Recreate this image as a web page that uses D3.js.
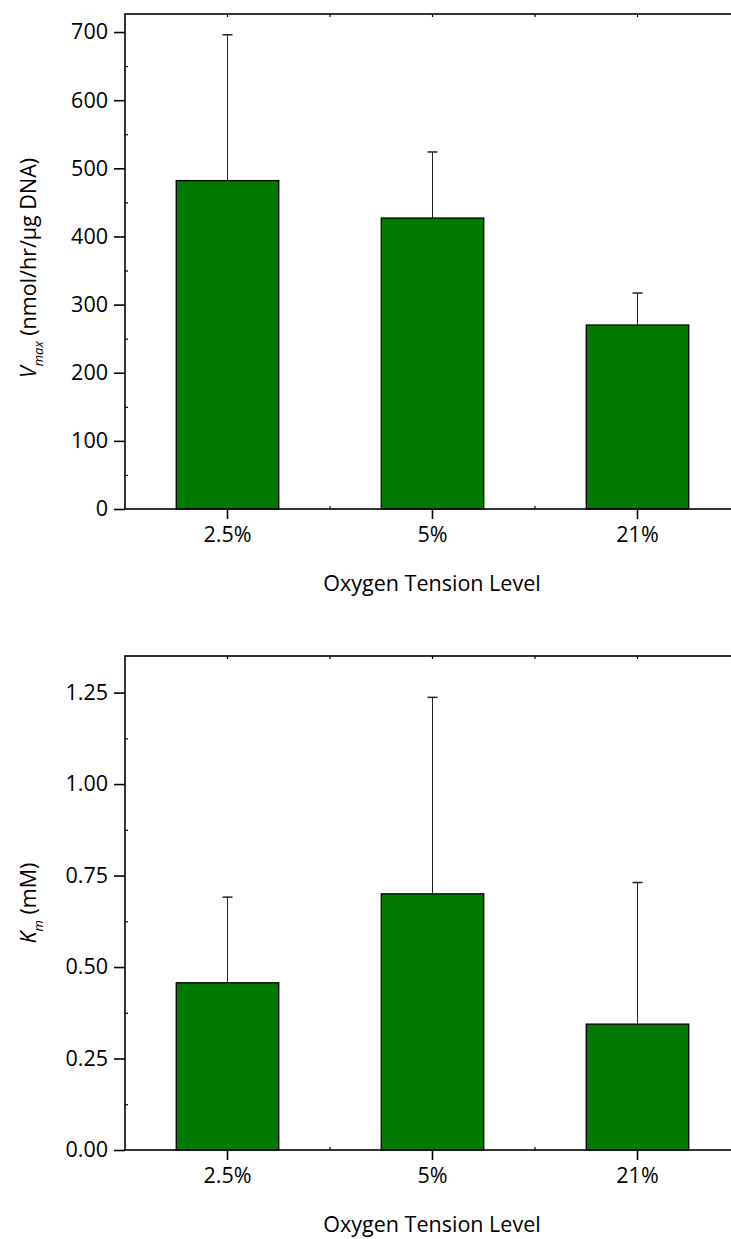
<!DOCTYPE html>
<html>
<head>
<meta charset="utf-8">
<script src="https://cdn.jsdelivr.net/npm/d3@7"></script>
<style>
  html, body { margin: 0; padding: 0; background: #fff; }
  svg { display: block; }
  text { font-family: "Open Sans", "DejaVu Sans", sans-serif; fill: #000; }
</style>
</head>
<body>
<svg id="chart" width="731" height="1239"></svg>
<script>
// ---- data ----
const categories = ["2.5%", "5%", "21%"];
const vmaxMeans = [482, 427, 270];
const vmaxErrors = [214, 97, 47];
const vmaxTicks = [0, 100, 200, 300, 400, 500, 600, 700];
const kmMeans = [0.457, 0.700, 0.344];
const kmErrors = [0.234, 0.537, 0.387];
const kmTicks = [0, 0.25, 0.5, 0.75, 1.0, 1.25];
const xTitle = "Oxygen Tension Level";

const svg = d3.select("#chart");
const FONT = 21.5;
const GREEN = "#007a00";

function drawPanel(cfg) {
  const g = svg.append("g");
  const left = 125, right = 740;
  const x = d3.scaleBand().domain(categories).range([left, right])
    .paddingInner(0.5).paddingOuter(0.25);
  const y = d3.scaleLinear().domain([0, cfg.yMax]).range([cfg.bottom, cfg.top]);

  // bars
  g.selectAll("rect.bar").data(cfg.means).join("rect")
    .attr("x", (d, i) => x(categories[i]))
    .attr("width", x.bandwidth())
    .attr("y", d => y(d))
    .attr("height", d => y(0) - y(d))
    .attr("fill", GREEN)
    .attr("stroke", "#000")
    .attr("stroke-width", 1.3);

  // error bars (upper only)
  const eb = g.selectAll("g.err").data(cfg.means).join("g");
  eb.append("line")
    .attr("x1", (d, i) => x(categories[i]) + x.bandwidth() / 2)
    .attr("x2", (d, i) => x(categories[i]) + x.bandwidth() / 2)
    .attr("y1", d => y(d))
    .attr("y2", (d, i) => y(d + cfg.errors[i]))
    .attr("stroke", "#222").attr("stroke-width", 1);
  eb.append("line")
    .attr("x1", (d, i) => x(categories[i]) + x.bandwidth() / 2 - 5)
    .attr("x2", (d, i) => x(categories[i]) + x.bandwidth() / 2 + 5)
    .attr("y1", (d, i) => y(d + cfg.errors[i]))
    .attr("y2", (d, i) => y(d + cfg.errors[i]))
    .attr("stroke", "#222").attr("stroke-width", 1.5);

  // frame
  g.append("rect")
    .attr("x", left).attr("y", cfg.top)
    .attr("width", right - left).attr("height", cfg.bottom - cfg.top)
    .attr("fill", "none").attr("stroke", "#000").attr("stroke-width", 1.6);

  // left axis: major ticks outward
  const yAxis = d3.axisLeft(y).tickValues(cfg.ticks).tickFormat(cfg.fmt)
    .tickSize(11).tickPadding(6);
  const ya = g.append("g").attr("transform", `translate(${left},0)`).call(yAxis);
  ya.select(".domain").remove();
  ya.selectAll(".tick line").attr("stroke", "#000").attr("stroke-width", 1.6);
  ya.selectAll(".tick text").attr("font-size", FONT).attr("font-family", null);

  // left axis minor ticks (inward)
  const minor = [];
  const step = cfg.ticks[1] - cfg.ticks[0];
  for (let i = 0; i < cfg.ticks.length; i++) {
    const v = cfg.ticks[i] + step / 2;
    if (v < cfg.yMax) minor.push(v);
  }
  const ym = g.append("g").attr("transform", `translate(${left},0)`)
    .call(d3.axisLeft(y).tickValues(minor).tickSize(-3).tickFormat(""));
  ym.select(".domain").remove();
  ym.selectAll(".tick line").attr("stroke", "#000").attr("stroke-width", 1.2);

  // bottom axis major ticks outward with labels
  const xa = g.append("g").attr("transform", `translate(0,${cfg.bottom})`)
    .call(d3.axisBottom(x).tickSize(10).tickPadding(8));
  xa.select(".domain").remove();
  xa.selectAll(".tick line").attr("stroke", "#000").attr("stroke-width", 1.6);
  xa.selectAll(".tick text").attr("font-size", FONT).attr("font-family", null);

  // minor x ticks (inward)
  const centres = categories.map(c => x(c) + x.bandwidth() / 2);
  const mids = centres.slice(0, -1).map((c, i) => (c + centres[i + 1]) / 2);
  g.selectAll("line.bminor").data(mids).join("line")
    .attr("x1", d => d).attr("x2", d => d)
    .attr("y1", cfg.bottom).attr("y2", cfg.bottom - 3)
    .attr("stroke", "#000").attr("stroke-width", 1.2);
  const topTicks = centres.concat(mids);
  g.selectAll("line.tminor").data(topTicks).join("line")
    .attr("x1", d => d).attr("x2", d => d)
    .attr("y1", cfg.top).attr("y2", cfg.top + 3)
    .attr("stroke", "#000").attr("stroke-width", 1.2);

  // x title
  g.append("text")
    .attr("x", 432).attr("y", cfg.bottom + 82)
    .attr("text-anchor", "middle").attr("font-size", FONT)
    .text(xTitle);

  // y title
  const yt = g.append("text")
    .attr("transform", `translate(36,${cfg.titleY}) rotate(-90)`)
    .attr("text-anchor", "middle").attr("font-size", FONT);
  yt.append("tspan").attr("font-style", "italic").text(cfg.yVar);
  yt.append("tspan").attr("font-style", "italic").attr("font-size", 13)
    .attr("dy", 7).text(cfg.ySub);
  yt.append("tspan").attr("dy", -7).text(" " + cfg.yUnit);
}

drawPanel({
  top: 14, bottom: 509, yMax: 726.5,
  means: vmaxMeans, errors: vmaxErrors, ticks: vmaxTicks,
  fmt: d3.format("d"),
  yVar: "V", ySub: "max", yUnit: "(nmol/hr/\u03bcg DNA)", titleY: 268
});

drawPanel({
  top: 656, bottom: 1150, yMax: 1.35,
  means: kmMeans, errors: kmErrors, ticks: kmTicks,
  fmt: d3.format(".2f"),
  yVar: "K", ySub: "m", yUnit: "(mM)", titleY: 903
});
</script>
</body>
</html>
